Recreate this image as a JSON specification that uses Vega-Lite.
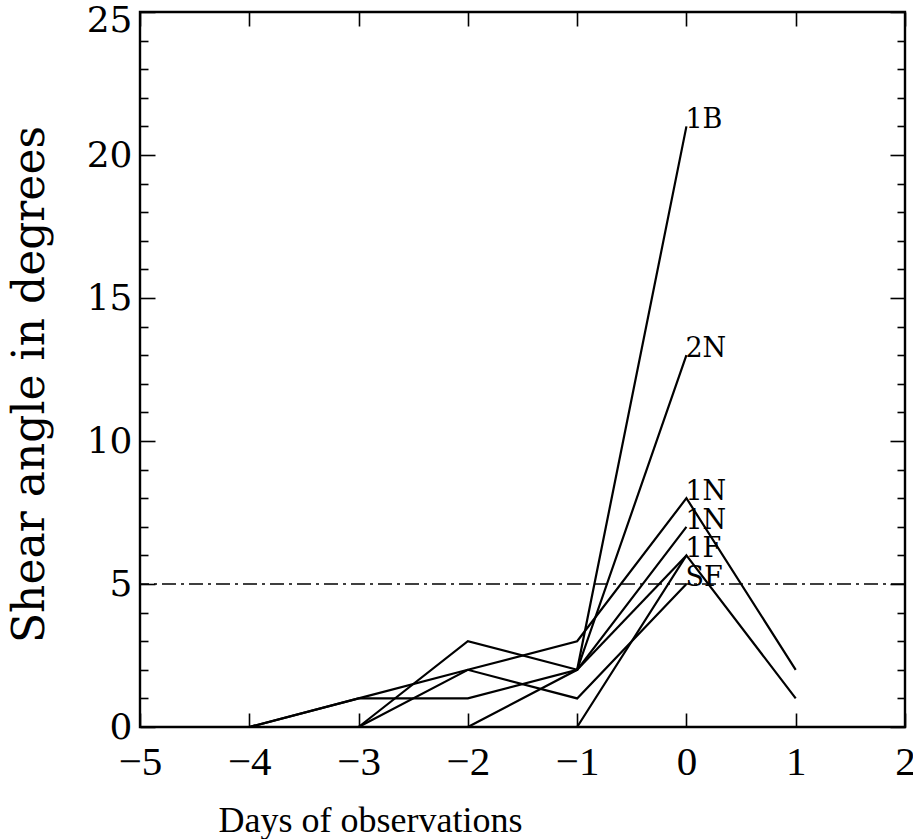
{
  "$schema": "https://vega.github.io/schema/vega-lite/v6.json",
  "width": 765,
  "height": 715,
  "autosize": "none",
  "padding": {"left": 140, "top": 12, "right": 8, "bottom": 112},
  "background": "white",
  "config": {
    "view": {"stroke": "black", "strokeWidth": 2.4},
    "axis": {"domain": false, "grid": false, "tickColor": "black", "tickWidth": 1.6, "labelColor": "black", "titleColor": "black", "labelFontWeight": "normal", "titleFontWeight": "normal"}
  },
  "datasets": {
    "series": [
      {"flare": "A", "day": -4, "angle": 0}, {"flare": "A", "day": -3, "angle": 1}, {"flare": "A", "day": -2, "angle": 2}, {"flare": "A", "day": -1, "angle": 3}, {"flare": "A", "day": 0, "angle": 8}, {"flare": "A", "day": 1, "angle": 2},
      {"flare": "B", "day": -4, "angle": 0}, {"flare": "B", "day": -3, "angle": 1}, {"flare": "B", "day": -2, "angle": 1}, {"flare": "B", "day": -1, "angle": 2}, {"flare": "B", "day": 0, "angle": 21},
      {"flare": "C", "day": -3, "angle": 0}, {"flare": "C", "day": -2, "angle": 3}, {"flare": "C", "day": -1, "angle": 2}, {"flare": "C", "day": 0, "angle": 13},
      {"flare": "D", "day": -3, "angle": 0}, {"flare": "D", "day": -2, "angle": 2}, {"flare": "D", "day": -1, "angle": 1}, {"flare": "D", "day": 0, "angle": 5},
      {"flare": "E", "day": -2, "angle": 0}, {"flare": "E", "day": -1, "angle": 2}, {"flare": "E", "day": 0, "angle": 7},
      {"flare": "F", "day": -1, "angle": 0}, {"flare": "F", "day": 0, "angle": 6}, {"flare": "F", "day": 1, "angle": 1},
      {"flare": "G", "day": -1, "angle": 2}, {"flare": "G", "day": 0, "angle": 6}
    ],
    "labels": [
      {"label": "1B", "day": 0, "angle": 21},
      {"label": "2N", "day": 0, "angle": 13},
      {"label": "1N", "day": 0, "angle": 8},
      {"label": "1N", "day": 0, "angle": 7},
      {"label": "1F", "day": 0, "angle": 6},
      {"label": "SF", "day": 0, "angle": 5}
    ]
  },
  "resolve": {"axis": {"x": "independent", "y": "independent"}},
  "layer": [
    {
      "data": {"name": "series"},
      "mark": {"type": "line", "color": "black", "strokeWidth": 2.2},
      "encoding": {
        "x": {
          "field": "day", "type": "quantitative",
          "scale": {"domain": [-5, 2], "nice": false, "zero": false},
          "axis": {
            "orient": "bottom", "values": [-5, -4, -3, -2, -1, 0, 1, 2],
            "tickSize": -14, "labelPadding": 29,
            "labelFont": "Liberation Serif", "labelFontSize": 41,
            "labelBaseline": "top", "labelFlush": false, "labelOverlap": false,
            "title": "Days of observations",
            "titleFont": "Liberation Serif", "titleFontSize": 36,
            "titleX": 230, "titleY": 104, "titleAlign": "center", "titleBaseline": "alphabetic"
          }
        },
        "y": {
          "field": "angle", "type": "quantitative",
          "scale": {"domain": [0, 25], "nice": false},
          "axis": {
            "orient": "left",
            "values": [0,1,2,3,4,5,6,7,8,9,10,11,12,13,14,15,16,17,18,19,20,21,22,23,24,25],
            "tickSize": {"condition": {"test": "datum.value % 5 === 0", "value": -15}, "value": -8},
            "labelExpr": "datum.value % 5 === 0 ? datum.label : ''",
            "labelPadding": 23,
            "labelBaseline": "middle",
            "labelOffset": {"condition": {"test": "datum.value === 25", "value": 8}, "value": 0},
            "labelFont": "DejaVu Serif", "labelFontSize": 36,
            "labelFlush": false, "labelOverlap": false,
            "title": "Shear angle in degrees",
            "titleFont": "DejaVu Serif", "titleFontSize": 44,
            "titleAngle": -90, "titleX": -97, "titleY": 372,
            "titleAlign": "center", "titleBaseline": "alphabetic"
          }
        },
        "detail": {"field": "flare", "type": "nominal"}
      }
    },
    {
      "data": {"values": [{"level": 5}]},
      "mark": {"type": "rule", "color": "black", "strokeWidth": 1.6, "strokeDash": [14, 5, 3, 5]},
      "encoding": {
        "y": {"field": "level", "type": "quantitative", "axis": null}
      }
    },
    {
      "data": {"name": "labels"},
      "mark": {"type": "text", "align": "left", "baseline": "alphabetic", "dy": 2, "dx": -1, "font": "DejaVu Serif", "fontSize": 27, "color": "black"},
      "encoding": {
        "x": {
          "field": "day", "type": "quantitative",
          "axis": {
            "orient": "top", "values": [-5, -4, -3, -2, -1, 0, 1, 2],
            "tickSize": -14, "labels": false, "title": null
          }
        },
        "y": {
          "field": "angle", "type": "quantitative",
          "axis": {
            "orient": "right",
            "values": [0,1,2,3,4,5,6,7,8,9,10,11,12,13,14,15,16,17,18,19,20,21,22,23,24,25],
            "tickSize": {"condition": {"test": "datum.value % 5 === 0", "value": -15}, "value": -8},
            "labels": false, "title": null
          }
        },
        "text": {"field": "label", "type": "nominal"}
      }
    }
  ]
}
